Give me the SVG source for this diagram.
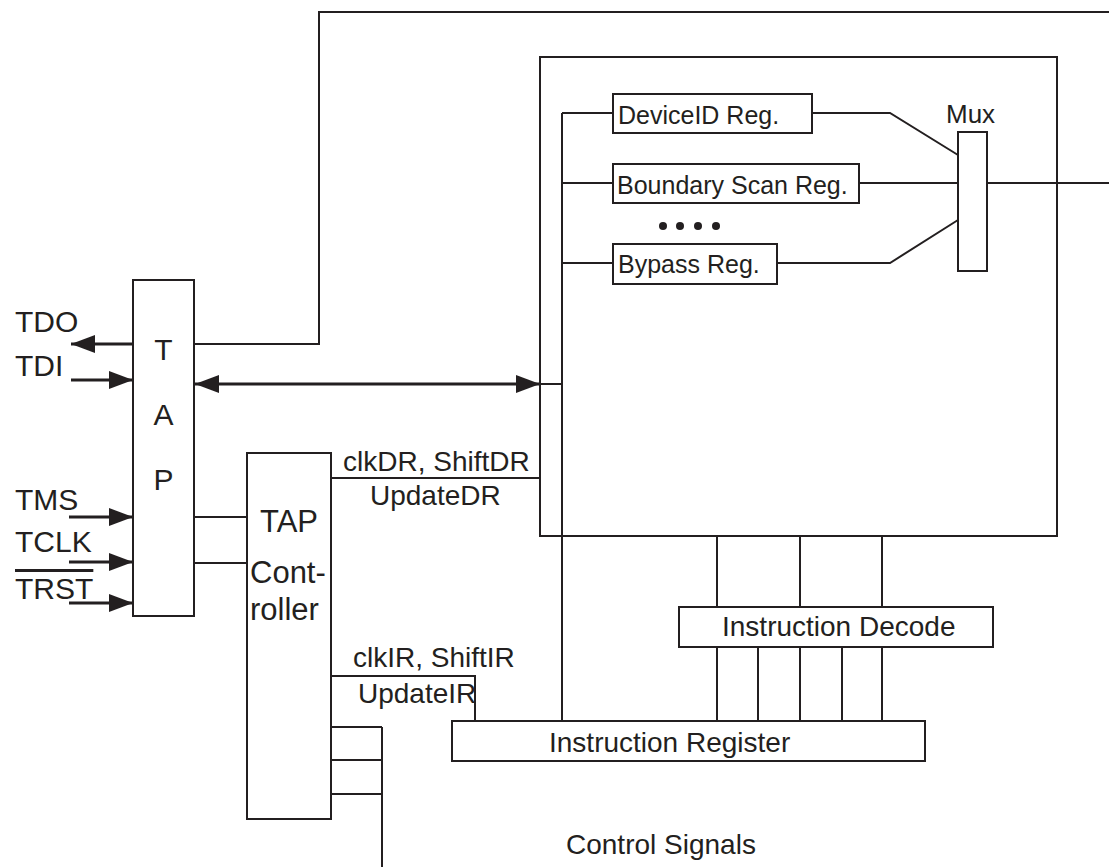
<svg xmlns="http://www.w3.org/2000/svg" width="1109" height="867" viewBox="0 0 1109 867">
<style>
.box{fill:#fff;stroke:#231f20;stroke-width:2}
.ln{fill:none;stroke:#231f20;stroke-width:2}
.ar{fill:none;stroke:#231f20;stroke-width:3}
text{font-family:"Liberation Sans",Arial,sans-serif;fill:#231f20}
.big{font-size:30px}
.mid{font-size:28px}
.reg{font-size:25px}
</style>
<defs>
<marker id="ah" markerUnits="userSpaceOnUse" markerWidth="24" markerHeight="18" refX="24" refY="9" orient="auto-start-reverse">
<path d="M0,0 L24,9 L0,18 z" fill="#231f20"/>
</marker>
</defs>
<rect width="1109" height="867" fill="#fff"/>
<g id="connectors">
<path class="ln" d="M194,344 H319 V12 H1109"/>
<path class="ar" d="M133,344 H71" marker-end="url(#ah)"/>
<path class="ar" d="M71,380 H133" marker-end="url(#ah)"/>
<path class="ar" d="M69,517 H133" marker-end="url(#ah)"/>
<path class="ar" d="M69,562 H133" marker-end="url(#ah)"/>
<path class="ar" d="M69,603 H133" marker-end="url(#ah)"/>
<path class="ar" d="M195,384 H540" marker-start="url(#ah)" marker-end="url(#ah)"/>
<path class="ln" d="M540,384 H562"/>
<path class="ln" d="M194,517 H247 M194,563 H247"/>
<path class="ln" d="M331,478 H540"/>
<path class="ln" d="M331,676 H475 V721"/>
<path class="ln" d="M331,727 H382 M331,760 H382 M331,794 H382 M382,727 V867"/>
<path class="ln" d="M562,113 V721 M562,113 H613 M562,183 H613 M562,263 H613"/>
<path class="ln" d="M812,113 H890 L958,155"/>
<path class="ln" d="M859,183 H958"/>
<path class="ln" d="M777,263 H890 L958,220"/>
<path class="ln" d="M987,183 H1109"/>
<path class="ln" d="M717,536 V607 M800,536 V607 M882,536 V607"/>
<path class="ln" d="M717,647 V721 M758,647 V721 M800,647 V721 M842,647 V721 M882,647 V721"/>
</g>
<g id="pins">
<text class="big" x="15" y="332">TDO</text>
<text class="big" x="15" y="376">TDI</text>
<text class="big" x="15" y="510">TMS</text>
<text class="big" x="15" y="552">TCLK</text>
<text class="big" x="15" y="599" text-decoration="overline">TRST</text>
</g>
<g id="tap">
<rect class="box" x="133" y="280" width="61" height="336"/>
<text class="big" x="163.5" y="360" text-anchor="middle">T</text>
<text class="big" x="163.5" y="425" text-anchor="middle">A</text>
<text class="big" x="163.5" y="490" text-anchor="middle">P</text>
</g>
<g id="tap-controller">
<rect class="box" x="247" y="453" width="84" height="366"/>
<text x="289" y="532" text-anchor="middle" style="font-size:31px">TAP</text>
<text x="250" y="583" style="font-size:31px">Cont-</text>
<text x="250" y="620" style="font-size:31px">roller</text>
</g>
<g id="data-registers">
<rect class="ln" x="540" y="57" width="517" height="479"/>
</g>
<g id="deviceid">
<rect class="box" x="613" y="94" width="199" height="39"/>
<text class="reg" x="618" y="124">DeviceID Reg.</text>
</g>
<g id="bsr">
<rect class="box" x="613" y="164" width="246" height="39"/>
<text class="reg" x="617" y="194">Boundary Scan Reg.</text>
</g>
<g id="dots">
<circle cx="663" cy="226" r="4" fill="#231f20"/>
<circle cx="680" cy="226" r="4" fill="#231f20"/>
<circle cx="698" cy="226" r="4" fill="#231f20"/>
<circle cx="716" cy="226" r="4" fill="#231f20"/>
</g>
<g id="bypass">
<rect class="box" x="613" y="244" width="164" height="40"/>
<text class="reg" x="618" y="273">Bypass Reg.</text>
</g>
<g id="mux">
<rect class="box" x="958" y="132" width="29" height="139"/>
<text x="946" y="123" style="font-size:26px">Mux</text>
</g>
<g id="instruction-decode">
<rect class="box" x="679" y="607" width="314" height="40"/>
<text class="mid" x="722" y="636">Instruction Decode</text>
</g>
<g id="instruction-register">
<rect class="box" x="452" y="721" width="473" height="40"/>
<text class="mid" x="549" y="752">Instruction Register</text>
</g>
<g id="labels">
<text class="mid" x="343" y="471">clkDR, ShiftDR</text>
<text class="mid" x="370" y="505">UpdateDR</text>
<text class="mid" x="353" y="667">clkIR, ShiftIR</text>
<text class="mid" x="358" y="703">UpdateIR</text>
<text class="mid" x="566" y="854">Control Signals</text>
</g>
</svg>
